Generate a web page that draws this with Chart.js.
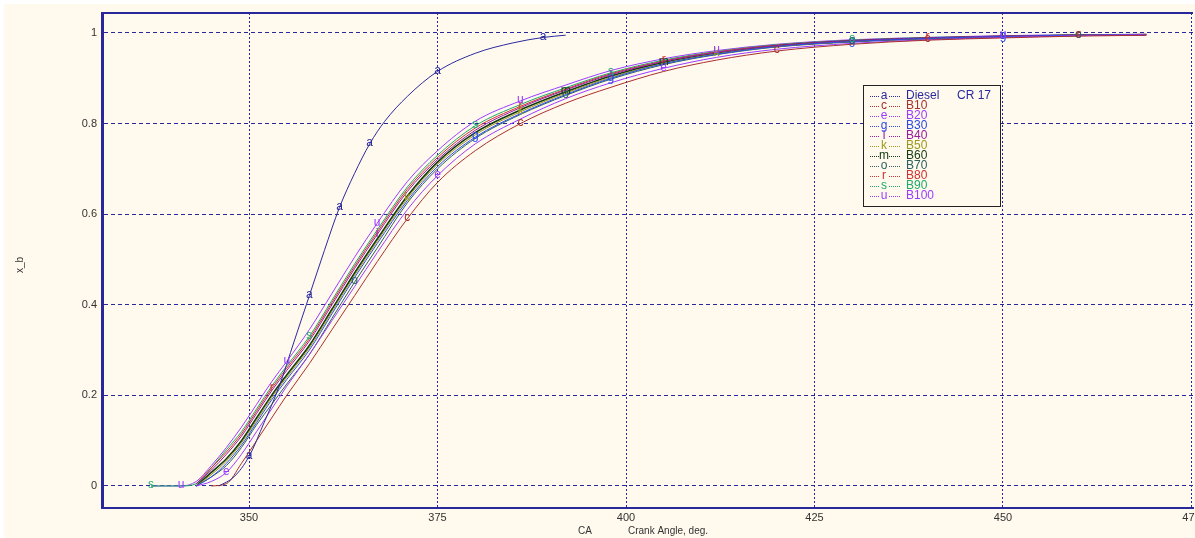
<!DOCTYPE html>
<html>
<head>
<meta charset="utf-8">
<script src="https://cdn.jsdelivr.net/npm/chart.js@4.4.0/dist/chart.umd.min.js"></script>
<style>
  html, body { margin: 0; padding: 0; background: #fff; }
  #wrap { position: absolute; left: 4px; top: 4px; width: 1191px; height: 534px; background: #fff9ee; }
</style>
</head>
<body>
<div id="wrap"><canvas id="chart" width="1191" height="534"></canvas></div>
<script>
// crank angle grid used by the biodiesel blends
const ca = [337, 341, 343, 345, 347, 349, 351, 353, 355, 358, 361, 364, 367, 371, 375, 380, 386, 392, 398, 405, 412, 420, 430, 440, 450, 460, 469];

// diesel has its own points
const dieselCA = [346, 348, 350, 352, 354, 356, 358, 360, 362, 364, 366, 368, 371, 375, 380, 385, 389, 392];
const diesel   = [0, 0.02, 0.065, 0.14, 0.22, 0.32, 0.42, 0.52, 0.615, 0.69, 0.755, 0.805, 0.86, 0.915, 0.955, 0.978, 0.99, 0.995];

const b10  = [null, null, null, 0, 0.005, 0.05, 0.10, 0.15, 0.20, 0.27, 0.345, 0.42, 0.495, 0.59, 0.67, 0.74, 0.80, 0.845, 0.88, 0.915, 0.94, 0.96, 0.975, 0.984, 0.989, 0.993, 0.995];
const b20  = [null, null, 0, 0.01, 0.03, 0.07, 0.12, 0.17, 0.22, 0.29, 0.365, 0.44, 0.515, 0.61, 0.685, 0.755, 0.81, 0.855, 0.89, 0.922, 0.946, 0.964, 0.977, 0.985, 0.99, 0.994, 0.996];
const b30  = [null, null, 0, 0.02, 0.05, 0.09, 0.14, 0.19, 0.235, 0.30, 0.38, 0.46, 0.535, 0.63, 0.705, 0.77, 0.822, 0.864, 0.90, 0.932, 0.953, 0.97, 0.981, 0.988, 0.992, 0.995, 0.996];
const b40  = [null, null, 0.005, 0.035, 0.07, 0.11, 0.16, 0.21, 0.255, 0.32, 0.40, 0.48, 0.555, 0.65, 0.72, 0.785, 0.835, 0.874, 0.908, 0.937, 0.957, 0.972, 0.983, 0.989, 0.993, 0.995, 0.996];
const b50  = [null, null, 0, 0.025, 0.055, 0.095, 0.145, 0.195, 0.24, 0.305, 0.385, 0.465, 0.54, 0.635, 0.71, 0.775, 0.826, 0.867, 0.902, 0.933, 0.954, 0.97, 0.981, 0.988, 0.992, 0.995, 0.996];
const b60  = [null, null, 0, 0.03, 0.06, 0.10, 0.15, 0.20, 0.245, 0.31, 0.39, 0.47, 0.545, 0.64, 0.715, 0.78, 0.83, 0.87, 0.905, 0.935, 0.955, 0.971, 0.982, 0.988, 0.992, 0.995, 0.996];
const b70  = [null, null, 0, 0.02, 0.045, 0.085, 0.135, 0.18, 0.225, 0.29, 0.37, 0.45, 0.525, 0.625, 0.70, 0.767, 0.82, 0.862, 0.898, 0.93, 0.952, 0.969, 0.98, 0.987, 0.991, 0.994, 0.996];
const b80  = [null, null, 0.005, 0.04, 0.075, 0.115, 0.165, 0.215, 0.26, 0.325, 0.405, 0.485, 0.56, 0.655, 0.725, 0.79, 0.838, 0.876, 0.91, 0.938, 0.958, 0.973, 0.983, 0.989, 0.993, 0.995, 0.997];
const b90  = [0, 0, 0.005, 0.04, 0.08, 0.12, 0.17, 0.22, 0.265, 0.33, 0.41, 0.49, 0.565, 0.66, 0.73, 0.795, 0.842, 0.879, 0.912, 0.94, 0.959, 0.974, 0.984, 0.99, 0.993, 0.996, 0.997];
const b100 = [0, 0, 0.01, 0.045, 0.085, 0.13, 0.18, 0.23, 0.275, 0.345, 0.425, 0.505, 0.58, 0.672, 0.74, 0.805, 0.85, 0.885, 0.917, 0.943, 0.961, 0.975, 0.985, 0.99, 0.994, 0.996, 0.997];

const xTicks = [350, 375, 400, 425, 450, 475];
const yTicks = [0, 0.2, 0.4, 0.6, 0.8, 1];

const navy = "#28289a";
const font = "'Liberation Sans', Arial, sans-serif";

function pts(xs, ys) {
    return xs.map((x, i) => ({ x: x, y: ys[i] }));
}

// label, letter, color, values, where the letter is written
const series = [
    { label: "Diesel", ch: "a", color: "#2a2a9c", xs: dieselCA, ys: diesel, marks: [2, 6, 8, 10, 13, 16] },
    { label: "B10",  ch: "c", color: "#a8302c", xs: ca, ys: b10,  marks: [13, 16, 21, 23, 25] },
    { label: "B20",  ch: "e", color: "#9a3cff", xs: ca, ys: b20,  marks: [4, 14, 19] },
    { label: "B30",  ch: "g", color: "#2a4ae8", xs: ca, ys: b30,  marks: [15, 18, 22, 24] },
    { label: "B40",  ch: "i", color: "#9a1aa0", xs: ca, ys: b40,  marks: [12, 18] },
    { label: "B50",  ch: "k", color: "#9a9a1a", xs: ca, ys: b50,  marks: [13, 16, 20] },
    { label: "B60",  ch: "m", color: "#123a12", xs: ca, ys: b60,  marks: [17, 19] },
    { label: "B70",  ch: "o", color: "#2a6060", xs: ca, ys: b70,  marks: [11, 17, 22, 25] },
    { label: "B80",  ch: "r", color: "#d0302e", xs: ca, ys: b80,  marks: [7, 16, 19, 23, 25] },
    { label: "B90",  ch: "s", color: "#1eaa6a", xs: ca, ys: b90,  marks: [0, 9, 15, 18, 22] },
    { label: "B100", ch: "u", color: "#9a3cff", xs: ca, ys: b100, marks: [1, 8, 12, 16, 20, 24] },
];

const datasets = series.map(s => ({
    label: s.label,
    data: pts(s.xs, s.ys),
    borderColor: s.color,
    borderWidth: s.label === "B60" ? 1.6 : 1,
    pointRadius: 0,
    fill: false,
    cubicInterpolationMode: "monotone",
    ch: s.ch,
    marks: s.marks,
}));

// letters on the curves, legend box, titles, top border
const decor = {
    id: "decor",
    afterDatasetsDraw(chart) {
        const ctx = chart.ctx;
        ctx.save();
        ctx.font = "12px " + font;
        ctx.textAlign = "center";
        ctx.textBaseline = "middle";
        chart.data.datasets.forEach((ds, i) => {
            const meta = chart.getDatasetMeta(i);
            ds.marks.forEach(k => {
                const p = meta.data[k];
                if (!p || ds.data[k].y === null) return;
                ctx.fillStyle = ds.borderColor;
                ctx.fillText(ds.ch, p.x, p.y - 1);
            });
        });
        ctx.restore();
    },
    afterDraw(chart) {
        const ctx = chart.ctx;
        const a = chart.chartArea;
        ctx.save();

        // top frame line
        ctx.strokeStyle = navy;
        ctx.lineWidth = 2;
        ctx.beginPath();
        ctx.moveTo(a.left, a.top);
        ctx.lineTo(a.right, a.top);
        ctx.stroke();

        // legend
        const lx = 859, ly = 81;
        ctx.fillStyle = "#fff9ee";
        ctx.fillRect(lx, ly, 137, 121);
        ctx.strokeStyle = "#222";
        ctx.lineWidth = 1;
        ctx.strokeRect(lx + 0.5, ly + 0.5, 137, 121);
        ctx.font = "12px " + font;
        ctx.textBaseline = "middle";
        chart.data.datasets.forEach((ds, i) => {
            const y = ly + 11 + i * 10;
            ctx.strokeStyle = ds.borderColor;
            ctx.setLineDash([1, 1]);
            ctx.beginPath();
            ctx.moveTo(lx + 7, y + 0.5);
            ctx.lineTo(lx + 16, y + 0.5);
            ctx.moveTo(lx + 26, y + 0.5);
            ctx.lineTo(lx + 37, y + 0.5);
            ctx.stroke();
            ctx.setLineDash([]);
            ctx.fillStyle = ds.borderColor;
            ctx.textAlign = "center";
            ctx.fillText(ds.ch, lx + 21, y);
            ctx.textAlign = "left";
            ctx.fillText(ds.label, lx + 43, y);
        });
        ctx.fillStyle = "#2a2a9c";
        ctx.fillText("CR 17", lx + 94, ly + 11);

        // axis titles
        ctx.fillStyle = "#333";
        ctx.font = "10px " + font;
        ctx.textAlign = "center";
        ctx.fillText("CA", 581, 527);
        ctx.textAlign = "left";
        ctx.fillText("Crank Angle, deg.", 624, 527);
        ctx.translate(16, 261);
        ctx.rotate(-Math.PI / 2);
        ctx.textAlign = "center";
        ctx.fillText("x_b", 0, 0);
        ctx.restore();
    }
};

new Chart(document.getElementById("chart"), {
    type: "line",
    data: { datasets: datasets },
    options: {
        responsive: false,
        animation: false,
        layout: { padding: { top: 9, right: 2, left: 0, bottom: 0 } },
        plugins: {
            legend: { display: false },
            tooltip: { enabled: false },
        },
        scales: {
            x: {
                type: "linear",
                min: 330.5,
                max: 475.2,
                afterFit(scale) {
                    scale.height = 30;
                    scale.paddingLeft = 0;
                    scale.paddingRight = 0;
                },
                afterBuildTicks(scale) {
                    scale.ticks = xTicks.map(v => ({ value: v }));
                },
                ticks: {
                    color: "#333",
                    font: { family: font, size: 11 },
                    padding: 3,
                    maxRotation: 0,
                    autoSkip: false,
                },
                grid: { color: navy, lineWidth: 1, drawTicks: false },
                border: { color: navy, width: 2, dash: [2, 2] },
            },
            y: {
                min: -0.0486,
                max: 1.044,
                afterFit(scale) {
                    scale.width = 98;
                    scale.paddingTop = 0;
                    scale.paddingBottom = 0;
                },
                afterBuildTicks(scale) {
                    scale.ticks = yTicks.map(v => ({ value: v }));
                },
                ticks: {
                    color: "#333",
                    font: { family: font, size: 11 },
                    padding: 5,
                    callback: v => String(+v.toFixed(1)),
                },
                grid: { color: navy, lineWidth: 1, drawTicks: false },
                border: { color: navy, width: 3, dash: [4, 3] },
            },
        },
    },
    plugins: [decor],
});
</script>
</body>
</html>
